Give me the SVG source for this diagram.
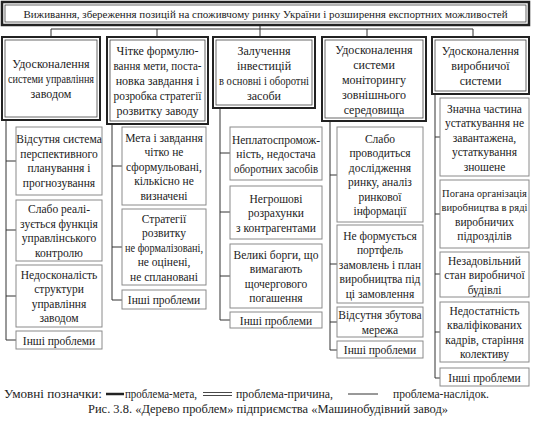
<svg xmlns="http://www.w3.org/2000/svg" width="533" height="421" viewBox="0 0 533 421">
<style>
text{font-family:'Liberation Serif','DejaVu Serif',serif;fill:#222;text-anchor:middle}
.t{font-size:11.5px}
.h{font-size:12px}
.sub{fill:#fff;stroke:#8a8a8a;stroke-width:1}
.ho{fill:#fff;stroke:#222;stroke-width:2}
.hi{fill:none;stroke:#444;stroke-width:0.8}
.c{fill:none;stroke:#333;stroke-width:1}
.lg{font-size:12px;text-anchor:start}
</style>
<rect width="533" height="421" fill="#fff"/>
<g id="connectors">
<path class="c" d="M260 25V29M51 37V29H473V37M157 29V37M260 29V37M367 29V37"/>
<path class="c" d="M6 120V340M6 161H16M6 230H16M6 296H16M6 340H16"/>
<path class="c" d="M112 124V300M112 166H122M112 247H122M112 300H122"/>
<path class="c" d="M220 108V320M220 153H230M220 212H230M220 276H230M220 320H230"/>
<path class="c" d="M330 121V350M330 175H337M330 264H337M330 322H337M330 350H337"/>
<path class="c" d="M435 94V378M435 137H440M435 214H440M435 274H440M435 332H440M435 378H440"/>
</g>
<g id="goal">
<rect x="2" y="2" width="527" height="23" fill="#fff" stroke="#222" stroke-width="2.5"/>
<rect x="5" y="5" width="521" height="17" class="hi"/>
<text x="265.5" y="17.5" font-size="11">Виживання, збереження позицій на споживчому ринку України і розширення експортних можливостей</text>
</g>
<g id="h1">
<rect x="2" y="37" width="98" height="83" class="ho"/><rect x="5" y="40" width="92" height="77" class="hi"/>
<text class="h" x="51" y="68">Удосконалення</text><text class="h" x="51" y="83" textLength="86" lengthAdjust="spacingAndGlyphs">системи управління</text><text class="h" x="51" y="98">заводом</text>
</g>
<g id="h2">
<rect x="107" y="37" width="101" height="87" class="ho"/><rect x="110" y="40" width="95" height="81" class="hi"/>
<text class="h" x="157.5" y="55">Чітке формулю-</text><text class="h" x="157.5" y="70" textLength="88" lengthAdjust="spacingAndGlyphs">вання мети, поста-</text><text class="h" x="157.5" y="85">новка завдання і</text><text class="h" x="157.5" y="100" textLength="88" lengthAdjust="spacingAndGlyphs">розробка стратегії</text><text class="h" x="157.5" y="115">розвитку заводу</text>
</g>
<g id="h3">
<rect x="213" y="37" width="102" height="71" class="ho"/><rect x="216" y="40" width="96" height="65" class="hi"/>
<text class="h" x="264" y="54.5">Залучення</text><text class="h" x="264" y="69.5">інвестицій</text><text class="h" x="264" y="84.5" textLength="90" lengthAdjust="spacingAndGlyphs">в основні і оборотні</text><text class="h" x="264" y="99.5">засоби</text>
</g>
<g id="h4">
<rect x="322" y="37" width="104" height="84" class="ho"/><rect x="325" y="40" width="98" height="78" class="hi"/>
<text class="h" x="374" y="53.5">Удосконалення</text><text class="h" x="374" y="68.5">системи</text><text class="h" x="374" y="83.5">моніторингу</text><text class="h" x="374" y="98.5">зовнішнього</text><text class="h" x="374" y="113.5">середовища</text>
</g>
<g id="h5">
<rect x="432" y="37" width="97" height="57" class="ho"/><rect x="435" y="40" width="91" height="51" class="hi"/>
<text class="h" x="480.5" y="55">Удосконалення</text><text class="h" x="480.5" y="70">виробничої</text><text class="h" x="480.5" y="85">системи</text>
</g>
<g id="c1s1"><rect x="16" y="127" width="86" height="68" class="sub"/>
<text class="t" x="59" y="143">Відсутня система</text><text class="t" x="59" y="157.5">перспективного</text><text class="t" x="59" y="172">планування і</text><text class="t" x="59" y="186.5">прогнозування</text></g>
<g id="c1s2"><rect x="16" y="200" width="86" height="61" class="sub"/>
<text class="t" x="59" y="213">Слабо реалі-</text><text class="t" x="59" y="227.5">зується функція</text><text class="t" x="59" y="242">управлінського</text><text class="t" x="59" y="256.5">контролю</text></g>
<g id="c1s3"><rect x="16" y="265" width="86" height="62" class="sub"/>
<text class="t" x="59" y="278.5">Недосконалість</text><text class="t" x="59" y="293">структури</text><text class="t" x="59" y="307.5">управління</text><text class="t" x="59" y="322">заводом</text></g>
<g id="c1s4"><rect x="16" y="331" width="86" height="18" class="sub"/>
<text class="t" x="59" y="344.5">Інші проблеми</text></g>
<g id="c2s1"><rect x="122" y="127" width="84" height="78" class="sub"/>
<text class="t" x="164" y="141.5">Мета і завдання</text><text class="t" x="164" y="156">чітко не</text><text class="t" x="164" y="170.5">сформульовані,</text><text class="t" x="164" y="185">кількісно не</text><text class="t" x="164" y="199.5">визначені</text></g>
<g id="c2s2"><rect x="122" y="209" width="84" height="76" class="sub"/>
<text class="t" x="164" y="222.5">Стратегії</text><text class="t" x="164" y="237">розвитку</text><text class="t" x="164" y="251.5" textLength="78" lengthAdjust="spacingAndGlyphs">не формалізовані,</text><text class="t" x="164" y="266">не оцінені,</text><text class="t" x="164" y="280.5">не сплановані</text></g>
<g id="c2s3"><rect x="122" y="290" width="84" height="19" class="sub"/>
<text class="t" x="164" y="304">Інші проблеми</text></g>
<g id="c3s1"><rect x="230" y="127" width="92" height="53" class="sub"/>
<text class="t" x="276" y="143.5">Неплатоспромож-</text><text class="t" x="276" y="158">ність, недостача</text><text class="t" x="276" y="172.5" textLength="84" lengthAdjust="spacingAndGlyphs">оборотних засобів</text></g>
<g id="c3s2"><rect x="230" y="186" width="92" height="53" class="sub"/>
<text class="t" x="276" y="202.5">Негрошові</text><text class="t" x="276" y="217">розрахунки</text><text class="t" x="276" y="231.5">з контрагентами</text></g>
<g id="c3s3"><rect x="230" y="244" width="92" height="64" class="sub"/>
<text class="t" x="276" y="258.5">Великі борги, що</text><text class="t" x="276" y="273">вимагають</text><text class="t" x="276" y="287.5">щочергового</text><text class="t" x="276" y="302">погашення</text></g>
<g id="c3s4"><rect x="230" y="312" width="92" height="16" class="sub"/>
<text class="t" x="276" y="324.5">Інші проблеми</text></g>
<g id="c4s1"><rect x="337" y="127" width="86" height="95" class="sub"/>
<text class="t" x="380" y="142.75">Слабо</text><text class="t" x="380" y="157.25">проводиться</text><text class="t" x="380" y="171.75">дослідження</text><text class="t" x="380" y="186.25">ринку, аналіз</text><text class="t" x="380" y="200.75">ринкової</text><text class="t" x="380" y="215.25">інформації</text></g>
<g id="c4s2"><rect x="337" y="225" width="86" height="78" class="sub"/>
<text class="t" x="380" y="239.5">Не формується</text><text class="t" x="380" y="254">портфель</text><text class="t" x="380" y="268.5">замовлень і план</text><text class="t" x="380" y="283">виробництва під</text><text class="t" x="380" y="297.5">ці замовлення</text></g>
<g id="c4s3"><rect x="337" y="307" width="86" height="30" class="sub"/>
<text class="t" x="380" y="319.25">Відсутня збутова</text><text class="t" x="380" y="333.75">мережа</text></g>
<g id="c4s4"><rect x="337" y="341" width="86" height="17" class="sub"/>
<text class="t" x="380" y="354">Інші проблеми</text></g>
<g id="c5s1"><rect x="440" y="98" width="89" height="78" class="sub"/>
<text class="t" x="484.5" y="112.5">Значна частина</text><text class="t" x="484.5" y="127">устаткування не</text><text class="t" x="484.5" y="141.5">завантажена,</text><text class="t" x="484.5" y="156">устаткування</text><text class="t" x="484.5" y="170.5">зношене</text></g>
<g id="c5s2"><rect x="440" y="180" width="89" height="68" class="sub"/>
<text x="484.5" y="196.75" font-size="10.5">Погана організація</text><text x="484.5" y="211.25" font-size="10.5">виробництва в ряді</text><text class="t" x="484.5" y="225.75">виробничих</text><text class="t" x="484.5" y="240.25">підрозділів</text></g>
<g id="c5s3"><rect x="440" y="252" width="89" height="45" class="sub"/>
<text class="t" x="484.5" y="264.5">Незадовільний</text><text class="t" x="484.5" y="279">стан виробничої</text><text class="t" x="484.5" y="293.5">будівлі</text></g>
<g id="c5s4"><rect x="440" y="302" width="89" height="60" class="sub"/>
<text class="t" x="484.5" y="314.75">Недостатність</text><text class="t" x="484.5" y="329.25">кваліфікованих</text><text class="t" x="484.5" y="343.75">кадрів, старіння</text><text class="t" x="484.5" y="358.25">колективу</text></g>
<g id="c5s5"><rect x="440" y="368" width="89" height="18" class="sub"/>
<text class="t" x="484.5" y="381.5">Інші проблеми</text></g>
<g id="legend">
<text class="lg" x="4" y="398" textLength="98" lengthAdjust="spacingAndGlyphs">Умовні позначки:</text>
<line x1="106" y1="394" x2="124" y2="394" stroke="#222" stroke-width="2.5"/>
<text class="lg" x="125" y="398" textLength="72" lengthAdjust="spacingAndGlyphs">проблема-мета,</text>
<line x1="203" y1="392.5" x2="232" y2="392.5" stroke="#333" stroke-width="0.9"/>
<line x1="203" y1="395.5" x2="232" y2="395.5" stroke="#333" stroke-width="0.9"/>
<text class="lg" x="236" y="398" textLength="97" lengthAdjust="spacingAndGlyphs">проблема-причина,</text>
<line x1="348" y1="394" x2="378" y2="394" stroke="#333" stroke-width="1"/>
<text class="lg" x="393" y="398" textLength="96" lengthAdjust="spacingAndGlyphs">проблема-наслідок.</text>
<text x="268" y="413" font-size="12" textLength="360" lengthAdjust="spacingAndGlyphs">Рис. 3.8. «Дерево проблем» підприємства «Машинобудівний завод»</text>
</g>
</svg>
